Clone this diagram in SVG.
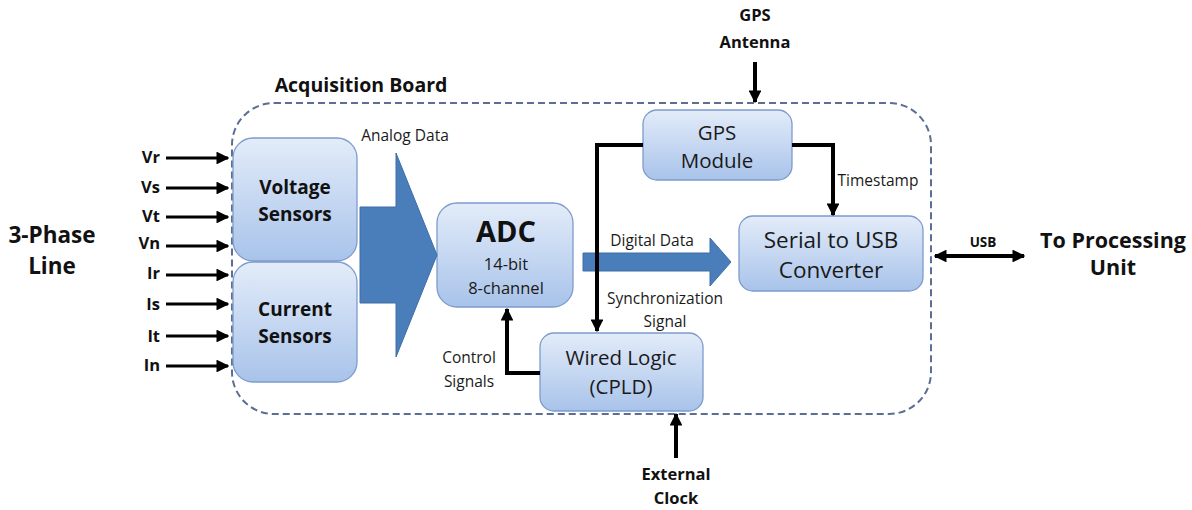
<svg xmlns="http://www.w3.org/2000/svg" width="1192" height="510" viewBox="0 0 1192 510">
<defs>
<linearGradient id="boxg" x1="0" y1="0" x2="0" y2="1">
<stop offset="0" stop-color="#e3ecf9"/>
<stop offset="1" stop-color="#a8c3ea"/>
</linearGradient>
<marker id="ah" viewBox="0 0 10 10" refX="9" refY="5" markerWidth="4" markerHeight="4" orient="auto-start-reverse" markerUnits="strokeWidth">
<path d="M0,0 L10,5 L0,10 z" fill="#000"/>
</marker>
<marker id="ah2" viewBox="0 0 10 10" refX="9" refY="5" markerWidth="3.2" markerHeight="3.2" orient="auto-start-reverse" markerUnits="strokeWidth">
<path d="M0,0 L10,5 L0,10 z" fill="#000"/>
</marker>
</defs>
<style>
.box{fill:url(#boxg);stroke:#7d9bcb;stroke-width:1.3}
.t{font-family:"Open Sans",Lato,"Liberation Sans",sans-serif;fill:#1a1a1a;text-anchor:middle}
.b{font-weight:bold;fill:#111}
.s{font-size:15.5px}
.m{font-size:20.5px}
.c{fill:none;stroke:#000;stroke-width:4;marker-end:url(#ah2)}
.in{fill:none;stroke:#000;stroke-width:3.2;marker-end:url(#ah)}
.big{fill:#4a7ebb;stroke:#3d6ea6;stroke-width:1}
</style>
<rect width="1192" height="510" fill="#fff"/>

<g id="board">
<rect x="232" y="103" width="699" height="311" rx="42" ry="42" fill="none" stroke="#5a6f93" stroke-width="2" stroke-dasharray="7,4"/>
<text class="t b" x="361" y="92" font-size="19.5">Acquisition Board</text>
</g>

<g id="three-phase">
<text class="t b" x="52" y="243" font-size="22.5">3-Phase</text>
<text class="t b" x="52" y="274" font-size="22.5">Line</text>
</g>

<g id="voltage-sensors">
<rect class="box" x="233" y="138" width="124" height="123" rx="20"/>
<text class="t b" font-size="19" x="295" y="194">Voltage</text>
<text class="t b" font-size="19" x="295" y="221">Sensors</text>
</g>
<g id="current-sensors">
<rect class="box" x="233" y="262" width="124" height="120" rx="20"/>
<text class="t b" font-size="19" x="295" y="316">Current</text>
<text class="t b" font-size="19" x="295" y="343">Sensors</text>
</g>

<g id="adc">
<rect class="box" x="437" y="203" width="136" height="104" rx="20"/>
<text class="t b" x="506" y="242" font-size="29">ADC</text>
<text class="t" x="506" y="270" font-size="16.5">14-bit</text>
<text class="t" x="506" y="294" font-size="16.5">8-channel</text>
</g>

<g id="gps-module">
<rect class="box" x="643" y="110" width="149" height="70" rx="14"/>
<text class="t m" x="717" y="140">GPS</text>
<text class="t m" x="717" y="168">Module</text>
</g>

<g id="serial-usb">
<rect class="box" x="739" y="216" width="184" height="75" rx="14"/>
<text class="t" x="831" y="248" font-size="22.5">Serial to USB</text>
<text class="t" x="831" y="278" font-size="22.5">Converter</text>
</g>

<g id="wired-logic">
<rect class="box" x="540" y="333" width="163" height="78" rx="14"/>
<text class="t m" x="621" y="365">Wired Logic</text>
<text class="t m" x="621" y="394">(CPLD)</text>
</g>

<g id="to-processing">
<text class="t b" x="1113" y="248" font-size="21.5">To Processing</text>
<text class="t b" x="1113" y="275" font-size="21.5">Unit</text>
</g>

<g id="gps-antenna">
<text class="t b" x="755" y="21" font-size="16.5">GPS</text>
<text class="t b" x="755" y="48" font-size="16.5">Antenna</text>
</g>

<g id="external-clock">
<text class="t b" x="676" y="480" font-size="16.5">External</text>
<text class="t b" x="676" y="504" font-size="16.5">Clock</text>
</g>

<g id="connectors">
<g class="t b" font-size="16.5">
<text x="160" y="163" text-anchor="end">Vr</text>
<text x="160" y="193" text-anchor="end">Vs</text>
<text x="160" y="222" text-anchor="end">Vt</text>
<text x="160" y="249" text-anchor="end">Vn</text>
<text x="160" y="279" text-anchor="end">Ir</text>
<text x="160" y="310" text-anchor="end">Is</text>
<text x="160" y="342" text-anchor="end">It</text>
<text x="160" y="371" text-anchor="end">In</text>
</g>
<path class="in" d="M166,158 H228"/>
<path class="in" d="M166,188 H228"/>
<path class="in" d="M166,217 H228"/>
<path class="in" d="M166,246 H228"/>
<path class="in" d="M166,275 H228"/>
<path class="in" d="M166,304 H228"/>
<path class="in" d="M166,336 H228"/>
<path class="in" d="M166,366 H228"/>

<path class="big" d="M360,207 H396 V153 L437,255 L396,357 V303 H360 Z"/>
<text class="t s" x="405" y="141">Analog Data</text>

<path class="big" d="M583,253 H710 V238 L731,262 L710,286 V271 H583 Z"/>
<text class="t s" x="652" y="246">Digital Data</text>

<path class="c" d="M755,62 V102"/>
<path class="c" d="M643,145 H597 V331"/>
<path class="c" d="M792,145 H833 V215"/>
<text class="t s" x="878" y="186">Timestamp</text>
<path class="c" d="M540,373 H507 V309"/>
<text class="t s" x="469" y="363">Control</text>
<text class="t s" x="469" y="387">Signals</text>
<text class="t s" x="665" y="304">Synchronization</text>
<text class="t s" x="665" y="327">Signal</text>
<path class="c" d="M676,458 V414"/>
<path class="c" d="M935,256 H1024" marker-start="url(#ah2)"/>
<text class="t b" x="983" y="247" font-size="13.5">USB</text>
</g>
</svg>
